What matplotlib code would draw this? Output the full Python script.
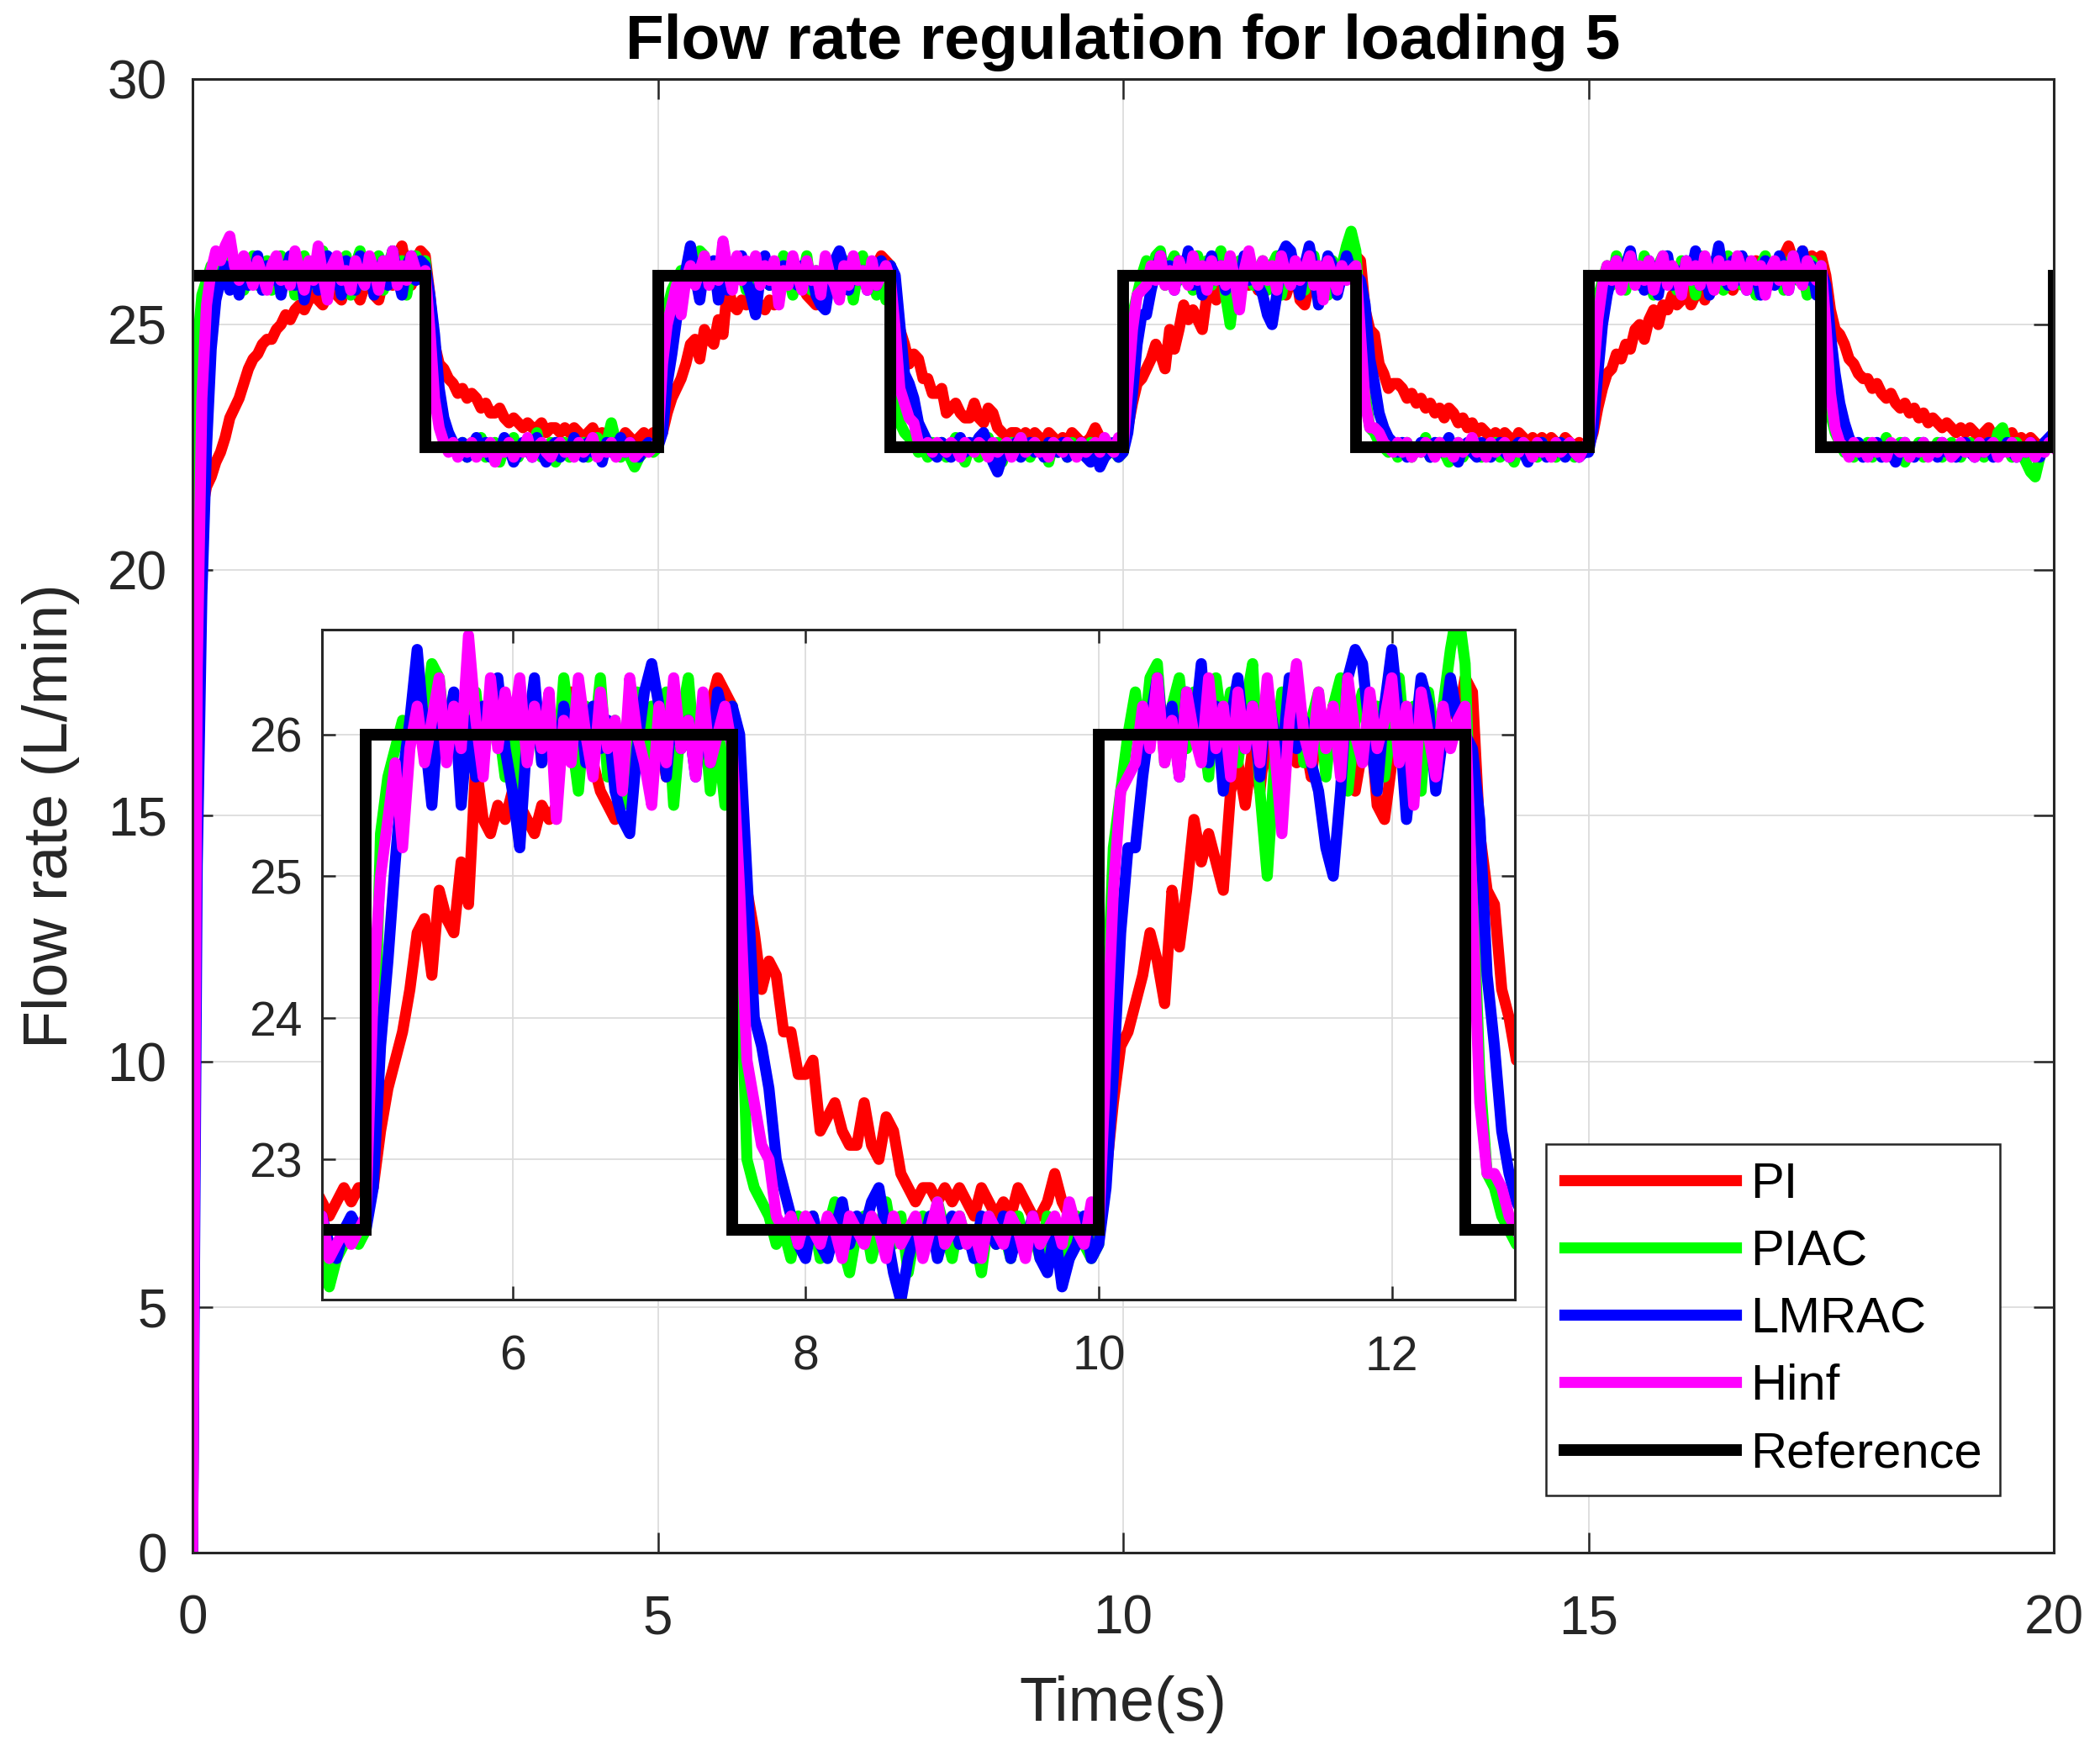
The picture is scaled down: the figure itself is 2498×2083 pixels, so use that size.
import numpy as np
import matplotlib
matplotlib.use("Agg")
import matplotlib.pyplot as plt

plt.rcParams['font.family'] = ['Liberation Sans', 'DejaVu Sans']

# ---------------- data (sampled every 0.05 s, 0 .. 20 s) ----------------
time_s = np.round(np.arange(401) * 0.05, 2)

pi_flow = [
    0.0, 19.8, 21.2, 21.7, 21.9, 22.2, 22.4, 22.7, 23.1, 23.3, 23.5, 23.8, 24.1, 24.3, 24.4, 24.6, 24.7, 24.7, 24.9, 25.0,
    25.2, 25.1, 25.3, 25.4, 25.3, 25.5, 25.7, 25.5, 25.4, 25.6, 25.8, 25.6, 25.5, 25.9, 26.1, 25.7, 25.5, 25.8, 26.0, 25.6,
    25.5, 25.9, 26.2, 25.8, 26.4, 26.6, 26.1, 25.8, 26.3, 26.5, 26.4, 25.6, 24.6, 24.2, 24.1, 23.9, 23.8, 23.6, 23.7, 23.5,
    23.6, 23.5, 23.3, 23.4, 23.2, 23.2, 23.3, 23.1, 23.0, 23.1, 23.0, 22.9, 23.0, 22.9, 22.9, 23.0, 22.8, 22.9, 22.9, 22.8,
    22.9, 22.8, 22.9, 22.8, 22.7, 22.8, 22.9, 22.7, 22.8, 22.7, 22.8, 22.7, 22.6, 22.8, 22.7, 22.6, 22.7, 22.8, 22.7, 22.8,
    22.8, 22.8, 23.2, 23.5, 23.7, 23.9, 24.2, 24.6, 24.7, 24.3, 24.9, 24.7, 24.6, 25.1, 24.8, 25.8, 25.4, 25.3, 25.5, 25.4,
    25.6, 25.5, 25.4, 25.3, 25.5, 25.4, 25.5, 26.1, 26.3, 25.9, 26.1, 25.8, 25.6, 25.5, 25.4, 25.7, 25.5, 25.9, 26.2, 25.8,
    26.0, 25.7, 26.1, 25.9, 26.2, 25.8, 26.0, 26.2, 26.4, 26.3, 26.2, 25.6, 24.9, 24.6, 24.2, 24.4, 24.3, 23.9, 23.9, 23.6,
    23.6, 23.7, 23.2, 23.3, 23.4, 23.2, 23.1, 23.1, 23.4, 23.1, 23.0, 23.3, 23.2, 22.9, 22.8, 22.7, 22.8, 22.8, 22.7, 22.8,
    22.7, 22.8, 22.7, 22.6, 22.8, 22.7, 22.6, 22.7, 22.6, 22.8, 22.7, 22.6, 22.6, 22.7, 22.9, 22.7, 22.6, 22.5, 22.5, 22.4,
    22.5, 22.9, 23.4, 23.8, 23.9, 24.1, 24.3, 24.6, 24.4, 24.1, 24.9, 24.5, 24.9, 25.4, 25.1, 25.3, 25.1, 24.9, 25.6, 25.8,
    25.5, 25.9, 25.6, 26.1, 25.7, 25.9, 26.2, 25.8, 26.0, 25.7, 26.1, 25.9, 26.2, 25.8, 26.0, 25.6, 25.9, 26.1, 25.5, 25.4,
    25.8, 26.0, 25.7, 26.1, 25.9, 26.2, 25.8, 26.0, 26.3, 26.1, 26.4, 26.3, 25.3, 24.9, 24.8, 24.2, 24.0, 23.7, 23.8, 23.8,
    23.7, 23.5, 23.6, 23.4, 23.5, 23.3, 23.4, 23.2, 23.3, 23.1, 23.3, 23.2, 23.0, 23.1, 22.9, 23.0, 22.8, 22.9, 22.8, 22.7,
    22.8, 22.7, 22.8, 22.7, 22.6, 22.8, 22.7, 22.6, 22.7, 22.6, 22.7, 22.6, 22.7, 22.6, 22.5, 22.7, 22.6, 22.5, 22.6, 22.5,
    22.5, 22.8, 23.3, 23.7, 24.0, 24.1, 24.4, 24.3, 24.6, 24.5, 24.9, 25.0, 24.7, 25.1, 25.3, 25.0, 25.4, 25.3, 25.6, 25.4,
    25.5, 25.7, 25.4, 25.6, 25.8, 25.5, 25.9, 25.7, 26.0, 25.8, 26.1, 25.7, 25.9, 26.2, 25.8, 26.0, 26.3, 25.9, 26.1, 25.8,
    26.2, 26.0, 26.4, 26.6, 26.3, 26.1, 26.5, 26.2, 26.4, 26.3, 26.4, 26.0, 25.3, 24.9, 24.8, 24.6, 24.3, 24.2, 24.0, 23.9,
    23.9, 23.7, 23.8, 23.6, 23.5, 23.6, 23.4, 23.3, 23.4, 23.2, 23.3, 23.1, 23.2, 23.0, 23.1, 23.0, 22.9, 23.0, 22.9, 22.8,
    22.9, 22.8, 22.9, 22.8, 22.7, 22.8, 22.9, 22.7, 22.8, 22.7, 22.7, 22.8, 22.6, 22.7, 22.6, 22.7, 22.6, 22.5, 22.6, 22.6,
    22.7]

piac_flow = [
    0.0, 24.5, 25.6, 25.9, 26.2, 25.8, 26.3, 26.0, 26.4, 25.9, 26.3, 25.7, 26.2, 26.4, 25.8, 26.1, 26.3, 25.7, 26.2, 26.4,
    25.9, 26.3, 25.6, 26.1, 26.4, 25.8, 26.2, 26.0, 26.5, 25.7, 26.1, 26.3, 25.9, 26.4, 25.6, 26.2, 26.5, 25.8, 26.3, 26.0,
    26.4, 25.7, 26.2, 26.5, 25.9, 26.3, 25.6, 26.1, 26.4, 26.2, 26.3, 25.4, 24.0, 23.1, 22.8, 22.5, 22.6, 22.4, 22.6, 22.3,
    22.6, 22.4, 22.7, 22.3, 22.5, 22.6, 22.2, 22.5, 22.4, 22.7, 22.3, 22.6, 22.4, 22.5, 22.8, 22.3, 22.5, 22.6, 22.2, 22.4,
    22.6, 22.3, 22.5, 22.4, 22.6, 22.3, 22.5, 22.7, 22.4, 22.6, 23.0, 22.6, 22.3, 22.5, 22.3, 22.1, 22.3, 22.4, 22.5, 22.4,
    22.5, 23.4, 25.3, 25.7, 25.9, 26.1, 26.0, 26.3, 26.1, 26.5, 26.4, 25.9, 26.2, 25.7, 26.0, 26.3, 25.8, 26.2, 26.1, 25.7,
    26.2, 25.6, 26.0, 26.3, 25.8, 26.1, 25.7, 26.4, 26.0, 25.6, 26.2, 25.9, 26.4, 25.7, 26.1, 25.5, 26.0, 26.3, 25.8, 26.2,
    25.9, 26.3, 25.5, 26.1, 26.4, 25.8, 26.2, 25.6, 26.0, 25.5, 26.2, 24.6, 23.0, 22.8, 22.7, 22.6, 22.4, 22.5, 22.3, 22.6,
    22.4, 22.6, 22.3, 22.5, 22.7, 22.4, 22.2, 22.5, 22.6, 22.3, 22.5, 22.7, 22.4, 22.6, 22.2, 22.5, 22.6, 22.4, 22.7, 22.5,
    22.3, 22.6, 22.4, 22.5, 22.2, 22.6, 22.4, 22.5, 22.3, 22.6, 22.4, 22.5, 22.3, 22.6, 22.4, 22.5, 22.3, 22.6, 22.4, 22.3,
    22.4, 24.0, 25.2, 25.6, 26.0, 26.3, 25.9, 26.4, 26.5, 25.8, 26.2, 26.4, 25.9, 26.3, 26.1, 25.7, 26.4, 26.0, 26.3, 25.8,
    26.2, 26.5, 25.6, 25.0, 25.8, 26.3, 26.0, 26.4, 25.8, 26.1, 26.3, 25.7, 26.2, 26.4, 25.6, 26.1, 26.3, 25.9, 26.2, 25.7,
    26.1, 26.4, 25.8, 26.2, 25.6, 26.3, 25.9, 26.2, 26.6, 26.9, 26.5, 25.0, 23.6, 22.9, 22.8, 22.6, 22.5, 22.4, 22.6, 22.3,
    22.5, 22.6, 22.3, 22.5, 22.4, 22.7, 22.3, 22.5, 22.6, 22.4, 22.2, 22.5, 22.6, 22.3, 22.5, 22.4, 22.6, 22.3, 22.5, 22.4,
    22.6, 22.3, 22.5, 22.4, 22.2, 22.5, 22.6, 22.4, 22.5, 22.3, 22.6, 22.4, 22.5, 22.3, 22.6, 22.4, 22.5, 22.3, 22.4, 22.5,
    22.5, 24.2, 25.5, 25.9, 26.2, 25.8, 26.4, 26.0, 25.7, 26.3, 26.1, 25.8, 26.4, 26.0, 25.6, 26.2, 26.4, 25.9, 26.1, 25.7,
    26.3, 25.9, 26.2, 25.6, 26.4, 26.0, 25.8, 26.3, 26.1, 25.7, 26.4, 25.9, 26.2, 25.8, 26.3, 26.0, 25.6, 26.2, 26.4, 25.9,
    26.1, 26.3, 25.7, 26.2, 26.4, 25.9, 26.1, 25.6, 26.3, 26.0, 26.2, 24.8, 23.2, 22.8, 22.6, 22.4, 22.6, 22.3, 22.5, 22.4,
    22.6, 22.3, 22.5, 22.4, 22.7, 22.3, 22.5, 22.6, 22.2, 22.5, 22.4, 22.6, 22.3, 22.5, 22.4, 22.6, 22.3, 22.5, 22.6, 22.4,
    22.3, 22.5, 22.6, 22.4, 22.5, 22.3, 22.6, 22.4, 22.8, 22.9, 22.5, 22.3, 22.6, 22.4, 22.2, 22.0, 21.9, 22.3, 22.5, 22.6,
    22.7]

lmrac_flow = [
    0.0, 14.0, 19.5, 22.5, 24.5, 25.5, 25.9, 26.2, 25.7, 26.1, 25.6, 26.3, 25.8, 26.0, 26.4, 25.7, 26.2, 25.9, 26.3, 25.6,
    26.1, 26.4, 25.8, 26.2, 25.5, 26.0, 26.3, 25.7, 26.1, 26.4, 25.8, 26.2, 25.6, 26.3, 26.0, 25.7, 26.4, 25.9, 26.2, 25.6,
    26.1, 26.3, 25.8, 26.5, 26.0, 25.6, 26.2, 26.4, 25.9, 26.3, 26.2, 25.6, 24.8, 23.7, 23.1, 22.8, 22.6, 22.4, 22.6, 22.3,
    22.5, 22.7, 22.4, 22.6, 22.3, 22.5, 22.4, 22.7, 22.5, 22.2, 22.4, 22.6, 22.5, 22.3, 22.7, 22.4, 22.2, 22.5, 22.6, 22.3,
    22.5, 22.4, 22.7, 22.5, 22.3, 22.6, 22.4, 22.5, 22.2, 22.6, 22.4, 22.5, 22.7, 22.4, 22.6, 22.4, 22.3, 22.5, 22.6, 22.5,
    22.5, 22.8, 23.8, 24.4, 25.1, 25.7, 26.1, 26.6, 26.0, 25.5, 26.2, 26.0, 26.3, 25.5, 26.1, 25.7, 26.2, 26.0, 26.4, 25.9,
    25.6, 25.2, 26.0, 26.4, 25.8, 26.1, 25.7, 26.2, 25.9, 26.3, 25.8, 26.2, 25.9, 26.1, 25.6, 25.4, 25.3, 25.9, 26.3, 26.5,
    26.2, 25.7, 26.3, 25.9, 26.1, 25.7, 26.2, 25.8, 26.3, 26.1, 26.2, 26.0, 25.0, 24.0, 23.8, 23.5, 23.0, 22.8, 22.6, 22.4,
    22.3, 22.6, 22.4, 22.3, 22.5, 22.7, 22.4, 22.6, 22.5, 22.7, 22.8, 22.5, 22.2, 22.0, 22.3, 22.5, 22.4, 22.6, 22.3, 22.5,
    22.6, 22.4, 22.5, 22.3, 22.6, 22.5, 22.4, 22.6, 22.3, 22.5, 22.4, 22.6, 22.3, 22.2, 22.5, 22.1, 22.3, 22.4, 22.6, 22.3,
    22.4, 22.8, 23.6, 24.6, 25.2, 25.2, 25.7, 26.1, 26.4, 25.9, 26.2, 25.7, 26.3, 26.0, 26.5, 25.8, 26.2, 25.6, 26.1, 26.4,
    25.9, 26.2, 25.7, 26.3, 26.0, 25.8, 26.4, 25.9, 26.1, 25.8, 25.6, 25.2, 25.0, 25.6, 26.4, 26.6, 26.5, 26.0, 25.6, 26.2,
    26.6, 26.1, 25.4, 25.9, 26.4, 26.2, 25.6, 26.0, 26.4, 26.1, 26.0, 25.9, 25.4, 24.3, 23.8, 23.2, 22.9, 22.7, 22.6, 22.4,
    22.6, 22.3, 22.5, 22.4, 22.6, 22.5, 22.3, 22.6, 22.4, 22.5, 22.7, 22.4, 22.2, 22.5, 22.6, 22.4, 22.3, 22.6, 22.5, 22.3,
    22.5, 22.6, 22.4, 22.3, 22.5, 22.6, 22.4, 22.2, 22.5, 22.4, 22.6, 22.3, 22.5, 22.4, 22.6, 22.3, 22.5, 22.4, 22.3, 22.4,
    22.4, 22.9, 24.0, 25.0, 25.6, 26.0, 26.3, 25.8, 26.2, 26.5, 25.9, 26.1, 25.7, 26.3, 26.0, 25.6, 26.2, 26.4, 25.8, 26.1,
    25.7, 26.3, 26.0, 26.5, 25.8, 26.2, 25.6, 26.1, 26.6, 26.0, 25.8, 26.3, 25.9, 26.4, 25.7, 26.2, 26.0, 25.6, 26.3, 26.1,
    25.8, 26.4, 26.1, 25.7, 26.3, 26.0, 26.5, 25.9, 26.2, 25.6, 26.1, 25.8, 24.8, 24.0, 23.4, 23.0, 22.7, 22.5, 22.6, 22.3,
    22.5, 22.4, 22.6, 22.3, 22.5, 22.4, 22.2, 22.5, 22.6, 22.4, 22.3, 22.5, 22.6, 22.4, 22.5, 22.3, 22.6, 22.4, 22.5, 22.3,
    22.5, 22.6, 22.4, 22.3, 22.5, 22.4, 22.6, 22.3, 22.5, 22.4, 22.6, 22.4, 22.3, 22.5, 22.4, 22.6, 22.5, 22.3, 22.6, 22.7,
    22.8]

hinf_flow = [
    0.0, 18.0, 23.5, 25.4, 26.1, 26.5, 26.3, 26.6, 26.8, 26.2, 25.9, 26.4, 26.1, 25.8, 26.3, 26.0, 25.7, 26.2, 26.4, 25.9,
    26.2, 25.8, 26.5, 26.1, 25.7, 26.3, 25.9, 26.6, 26.0, 25.5, 26.2, 26.4, 25.9, 26.1, 25.7, 26.3, 26.0, 25.8, 26.4, 26.1,
    25.7, 26.3, 26.0, 26.5, 25.8, 26.2, 25.9, 26.4, 26.1, 26.0, 26.1, 24.9, 23.5, 22.9, 22.6, 22.4, 22.6, 22.3, 22.5, 22.4,
    22.6, 22.3, 22.5, 22.4, 22.6, 22.2, 22.5, 22.4, 22.6, 22.3, 22.5, 22.4, 22.7, 22.3, 22.5, 22.6, 22.4, 22.3, 22.5, 22.6,
    22.4, 22.5, 22.3, 22.6, 22.4, 22.5, 22.7, 22.3, 22.5, 22.4, 22.6, 22.3, 22.5, 22.4, 22.6, 22.3, 22.4, 22.5, 22.4, 22.5,
    22.6, 24.2, 25.0, 25.4, 25.8, 25.2, 25.9, 26.2, 25.8, 26.1, 26.4, 25.8, 26.2, 25.9, 26.7, 26.1, 25.7, 26.4, 25.9, 26.3,
    26.0, 26.4, 25.8, 26.2, 25.9, 26.3, 25.4, 26.1, 25.8, 26.4, 26.0, 25.7, 26.3, 25.9, 26.1, 25.6, 26.4, 26.0, 25.8, 25.5,
    26.2, 25.8, 26.4, 25.9, 26.1, 25.7, 26.3, 25.8, 26.0, 26.2, 25.9, 24.9, 23.7, 23.4, 23.1, 23.0, 22.6, 22.5, 22.6, 22.4,
    22.6, 22.5, 22.4, 22.6, 22.5, 22.3, 22.6, 22.5, 22.4, 22.6, 22.5, 22.3, 22.6, 22.4, 22.5, 22.6, 22.3, 22.5, 22.7, 22.4,
    22.5, 22.6, 22.4, 22.5, 22.3, 22.6, 22.5, 22.4, 22.6, 22.5, 22.3, 22.6, 22.4, 22.5, 22.6, 22.4, 22.7, 22.5, 22.4, 22.7,
    22.5, 23.7, 24.9, 25.6, 25.7, 25.8, 26.2, 25.9, 26.4, 25.8, 26.1, 25.7, 26.3, 26.0, 25.8, 26.4, 25.9, 26.2, 25.7, 26.3,
    25.9, 26.2, 25.8, 26.4, 25.9, 25.3, 26.1, 26.5, 26.0, 25.8, 26.3, 25.9, 26.2, 25.7, 26.4, 26.0, 25.8, 26.3, 25.9, 26.1,
    26.4, 25.8, 26.2, 25.5, 26.3, 26.0, 25.7, 26.2, 25.9, 26.1, 26.2, 24.8, 23.4, 22.9, 22.9, 22.8, 22.6, 22.5, 22.4, 22.6,
    22.4, 22.6, 22.3, 22.5, 22.4, 22.6, 22.5, 22.3, 22.6, 22.4, 22.5, 22.3, 22.6, 22.4, 22.5, 22.7, 22.4, 22.5, 22.3, 22.6,
    22.4, 22.5, 22.6, 22.3, 22.5, 22.4, 22.6, 22.5, 22.3, 22.6, 22.4, 22.5, 22.3, 22.6, 22.4, 22.5, 22.6, 22.4, 22.3, 22.5,
    22.6, 23.9, 25.1, 25.8, 26.2, 25.9, 26.3, 25.7, 26.1, 26.4, 25.8, 26.2, 25.9, 26.3, 25.7, 26.1, 26.4, 25.8, 26.2, 26.0,
    25.6, 26.3, 25.9, 26.2, 25.8, 26.4, 26.0, 25.7, 26.3, 25.9, 26.2, 25.8, 26.4, 26.1, 25.7, 26.3, 25.9, 26.2, 25.6, 26.1,
    26.3, 25.9, 26.2, 25.7, 26.4, 26.0, 25.8, 26.3, 26.1, 25.9, 26.2, 25.0, 23.6, 22.9, 22.6, 22.5, 22.3, 22.6, 22.4, 22.5,
    22.3, 22.6, 22.4, 22.5, 22.3, 22.6, 22.5, 22.4, 22.6, 22.3, 22.5, 22.4, 22.6, 22.3, 22.5, 22.4, 22.6, 22.5, 22.3, 22.4,
    22.6, 22.4, 22.5, 22.3, 22.6, 22.4, 22.5, 22.6, 22.3, 22.5, 22.4, 22.6, 22.3, 22.5, 22.4, 22.6, 22.3, 22.5, 22.4, 22.6,
    22.5]

ref_times = [0, 2.5, 5, 7.5, 10, 12.5, 15, 17.5, 20]
ref_levels = [26, 22.5, 26, 22.5, 26, 22.5, 26, 22.5, 26]

series_labels = ['PI', 'PIAC', 'LMRAC', 'Hinf', 'Reference']
series_colors = ['#ff0000', '#00ff00', '#0000ff', '#ff00ff', '#000000']

main_xticks = [0, 5, 10, 15, 20]
main_yticks = [0, 5, 10, 15, 20, 25, 30]
inset_xticks = [6, 8, 10, 12]
inset_yticks = [23, 24, 25, 26]

# ---------------- drawing ----------------
AX_COL = '#262626'
GRID_COL = '#dcdcdc'
LW = 9.5
LW_REF = 10.0

fig = plt.figure(figsize=(24.98, 20.83), dpi=100)
ax = fig.add_axes([0.0917, 0.1133, 0.8863, 0.8416])


def draw_series(a):
    for y, c, lab in zip([pi_flow, piac_flow, lmrac_flow, hinf_flow], series_colors[:4], series_labels[:4]):
        a.plot(time_s, y, color=c, lw=LW, label=lab, solid_joinstyle='round')
    a.plot(ref_times, ref_levels, color=series_colors[4], lw=LW_REF, drawstyle='steps-post',
           label=series_labels[4], solid_joinstyle='miter')


def style_axes(a, tick_len, label_size, xpad, ypad):
    a.set_axisbelow(True)
    a.grid(True, color=GRID_COL, linewidth=1.3)
    for s in a.spines.values():
        s.set_color(AX_COL)
        s.set_linewidth(2.2)
    a.tick_params(axis='both', direction='in', length=tick_len, width=1.8, color=AX_COL,
                  labelcolor=AX_COL, labelsize=label_size, top=True, right=True)
    a.tick_params(axis='x', pad=xpad)
    a.tick_params(axis='y', pad=ypad)


draw_series(ax)
ax.set_xlim(0, 20)
ax.set_ylim(0, 30)
ax.set_xticks(main_xticks)
ax.set_yticks(main_yticks)
style_axes(ax, 17, 46, 36, 22)

ax.set_title('Flow rate regulation for loading 5', fontsize=54, fontweight='bold', pad=17, color='black')
ax.set_xlabel('Time(s)', fontsize=53, color=AX_COL)
ax.set_ylabel('Flow rate (L/min)', fontsize=53, color=AX_COL)
ax.xaxis.set_label_coords(0.5, -0.0835)
ax.yaxis.set_label_coords(-0.0605, 0.5)

leg = ax.legend(loc='lower right', bbox_to_anchor=(0.9711, 0.0388), borderaxespad=0,
                fontsize=43, handlelength=3.42, handletextpad=0.28, labelspacing=0.42,
                borderpad=0.36, fancybox=False, framealpha=1, edgecolor=AX_COL)
leg.get_frame().set_linewidth(1.8)

# inset (zoom of the same data)
axin = fig.add_axes([0.1533, 0.2578, 0.5681, 0.3826])
draw_series(axin)
axin.set_xlim(4.70, 12.84)
axin.set_ylim(22.01, 26.74)
axin.set_xticks(inset_xticks)
axin.set_yticks(inset_yticks)
style_axes(axin, 11.5, 41, 30, 17)

fig.savefig('out.png', dpi=100)
